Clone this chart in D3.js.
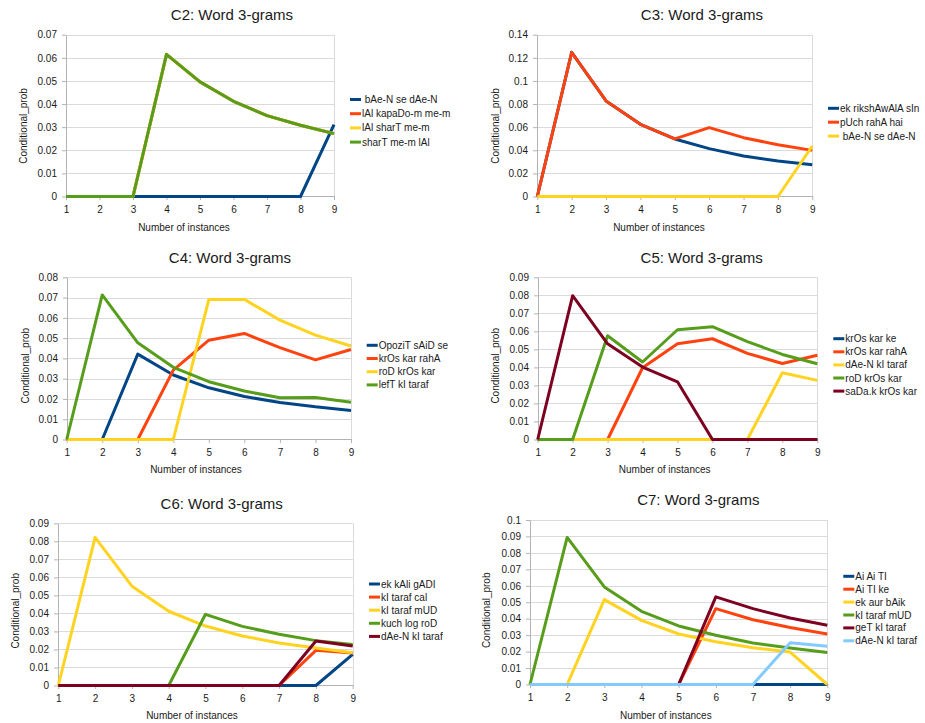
<!DOCTYPE html>
<html>
<head>
<meta charset="utf-8">
<script src="https://cdn.jsdelivr.net/npm/d3@7"></script>
<style>
  body { margin: 0; background: #fff; }
  text { font-family: "Liberation Sans", Arial, sans-serif; fill: #1a1a1a; }
  .grid line { stroke: #dadada; }
  .axis path, .axis line { stroke: #b3b3b3; }
  .axis text { font-size: 10px; fill: #1a1a1a; }
</style>
</head>
<body>
<script>
// x categories shared by every panel
const instances = [1, 2, 3, 4, 5, 6, 7, 8, 9];
const palette = ["#004586", "#ff420e", "#ffd320", "#579d1c", "#7e0021", "#83caff"];

// C2
const c2Names = [" bAe-N se dAe-N", "lAl kapaDo-m me-m", "lAl sharT me-m", "sharT me-m lAl"];
const c2Values = [
  [0, 0, 0, 0, 0, 0, 0, 0, 0.0311],
  [0, 0, 0, 0.0615, 0.0496, 0.0412, 0.035, 0.0308, 0.0272],
  [0, 0, 0, 0.0615, 0.0496, 0.0412, 0.035, 0.0308, 0.0272],
  [0, 0, 0, 0.0615, 0.0496, 0.0412, 0.035, 0.0308, 0.0272]
];

// C3
const c3Names = ["ek rikshAwAlA sIn", "pUch rahA hai", " bAe-N se dAe-N"];
const c3Values = [
  [0, 0.1247, 0.0827, 0.0625, 0.0498, 0.0414, 0.035, 0.0307, 0.0275],
  [0, 0.1247, 0.0827, 0.0625, 0.0498, 0.0596, 0.0509, 0.0448, 0.0399],
  [0, 0, 0, 0, 0, 0, 0, 0, 0.0437]
];

// C4
const c4Names = ["OpoziT sAiD se", "krOs kar rahA", "roD krOs kar", "lefT kI taraf"];
const c4Values = [
  [0, 0, 0.0421, 0.0318, 0.0255, 0.0212, 0.0183, 0.0161, 0.0143],
  [0, 0, 0, 0.0342, 0.049, 0.0523, 0.0453, 0.0393, 0.0444],
  [0, 0, 0, 0, 0.0691, 0.0691, 0.0589, 0.0515, 0.0461],
  [0, 0.0713, 0.0477, 0.0356, 0.0285, 0.0239, 0.0206, 0.0207, 0.0184]
];

// C5
const c5Names = ["krOs kar ke", "krOs kar rahA", "dAe-N kI taraf", "roD krOs kar", "saDa.k krOs kar"];
const c5Values = [
  [0, 0, 0, 0, 0, 0, 0, 0, 0],
  [0, 0, 0, 0.0398, 0.0531, 0.0559, 0.0478, 0.0422, 0.0467],
  [0, 0, 0, 0, 0, 0, 0, 0.037, 0.0328],
  [0, 0, 0.0576, 0.043, 0.0609, 0.0626, 0.0543, 0.0472, 0.042],
  [0, 0.0798, 0.0531, 0.0402, 0.032, 0, 0, 0, 0]
];

// C6
const c6Names = ["ek kAli gADI", "kI taraf cal", "kI taraf mUD", "kuch log roD", "dAe-N kI taraf"];
const c6Values = [
  [0, 0, 0, 0, 0, 0, 0, 0, 0.0173],
  [0, 0, 0, 0, 0, 0, 0, 0.0195, 0.018],
  [0, 0.0822, 0.0551, 0.0412, 0.033, 0.0275, 0.0236, 0.0208, 0.0182],
  [0, 0, 0, 0, 0.0395, 0.0328, 0.0284, 0.0249, 0.0228],
  [0, 0, 0, 0, 0, 0, 0, 0.0247, 0.0219]
];

// C7
const c7Names = ["Ai Ai TI", "Ai TI ke", "ek aur bAik", "kI taraf mUD", "geT kI taraf", "dAe-N kI taraf"];
const c7Values = [
  [0, 0, 0, 0, 0, 0, 0, 0, 0],
  [0, 0, 0, 0, 0, 0.0461, 0.0394, 0.0346, 0.0307],
  [0, 0, 0.0516, 0.039, 0.0307, 0.026, 0.0224, 0.0197, 0],
  [0, 0.0894, 0.0593, 0.0445, 0.0356, 0.0299, 0.0252, 0.0222, 0.0195],
  [0, 0, 0, 0, 0, 0.0533, 0.0461, 0.0404, 0.036],
  [0, 0, 0, 0, 0, 0, 0, 0.0254, 0.0232]
];

const yTicksC2 = [0, 0.01, 0.02, 0.03, 0.04, 0.05, 0.06, 0.07];
const yTicksC3 = [0, 0.02, 0.04, 0.06, 0.08, 0.1, 0.12, 0.14];
const yTicksC4 = [0, 0.01, 0.02, 0.03, 0.04, 0.05, 0.06, 0.07, 0.08];
const yTicks09 = [0, 0.01, 0.02, 0.03, 0.04, 0.05, 0.06, 0.07, 0.08, 0.09];
const yTicksC7 = [0, 0.01, 0.02, 0.03, 0.04, 0.05, 0.06, 0.07, 0.08, 0.09, 0.1];

// layout of the six panels (bottoms on half pixels so the zero lines sit crisp)
var panels = [
  { title: "C2: Word 3-grams", names: c2Names, values: c2Values, ticks: yTicksC2,
    box: [66, 34.7, 334, 196.5], titleAt: [232, 20], legendAt: [350, 99.5], legendGap: 14.2,
    yLabelAt: [23, 126], xLabelAt: [184, 231] },
  { title: "C3: Word 3-grams", names: c3Names, values: c3Values, ticks: yTicksC3,
    box: [537.3, 34.7, 812.3, 196.5], titleAt: [702, 20], legendAt: [828, 108.3], legendGap: 13.9,
    yLabelAt: [495, 126], xLabelAt: [659, 231] },
  { title: "C4: Word 3-grams", names: c4Names, values: c4Values, ticks: yTicksC4,
    box: [66.7, 277.3, 351, 439.5], titleAt: [230, 263], legendAt: [366.7, 345.3], legendGap: 13.2,
    yLabelAt: [25, 365.7], xLabelAt: [196, 473] },
  { title: "C5: Word 3-grams", names: c5Names, values: c5Values, ticks: yTicks09,
    box: [537.7, 277.3, 817.3, 439.5], titleAt: [701.7, 263], legendAt: [833.3, 338.7], legendGap: 13.1,
    yLabelAt: [495, 365.8], xLabelAt: [664.7, 473] },
  { title: "C6: Word 3-grams", names: c6Names, values: c6Values, ticks: yTicks09,
    box: [58.3, 523.3, 352.7, 685.5], titleAt: [221.7, 508.5], legendAt: [369, 584], legendGap: 13.1,
    yLabelAt: [15, 610.8], xLabelAt: [192, 719] },
  { title: "C7: Word 3-grams", names: c7Names, values: c7Values, ticks: yTicksC7,
    box: [530, 520, 827.3, 684.5], titleAt: [698.3, 505], legendAt: [843.3, 576.3], legendGap: 12.9,
    yLabelAt: [486.7, 610.3], xLabelAt: [665.8, 719] }
];

var svg = d3.select("body").append("svg").attr("width", 925).attr("height", 723);

panels.forEach(function (p) {
  var left = p.box[0], top = p.box[1], right = p.box[2], bottom = p.box[3];
  var x = d3.scaleLinear().domain([1, 9]).range([left, right]);
  var y = d3.scaleLinear().domain([0, d3.max(p.ticks)]).range([bottom, top]);

  var g = svg.append("g");

  g.append("g")
    .attr("class", "grid")
    .selectAll("line")
    .data(p.ticks.slice(1))
    .enter()
    .append("line")
    .attr("x1", left)
    .attr("x2", right)
    .attr("y1", function (d) { return Math.round(y(d)) + 0.5; })
    .attr("y2", function (d) { return Math.round(y(d)) + 0.5; });

  // right border of the plot area
  g.append("line")
    .attr("x1", Math.round(right) + 0.5).attr("x2", Math.round(right) + 0.5)
    .attr("y1", top).attr("y2", bottom)
    .attr("stroke", "#dadada");

  g.append("g")
    .attr("class", "axis")
    .attr("transform", "translate(" + Math.round(left) + ",0)")
    .call(d3.axisLeft(y).tickValues(p.ticks).tickSize(4).tickSizeOuter(0).tickPadding(5)
      .tickFormat(function (d) { return String(+d.toFixed(2)); }));

  g.append("g")
    .attr("class", "axis")
    .attr("transform", "translate(0," + Math.floor(bottom) + ")")
    .call(d3.axisBottom(x).tickValues(instances).tickSize(4).tickSizeOuter(0).tickPadding(6)
      .tickFormat(d3.format("d")));

  var line = d3.line()
    .x(function (d, i) { return x(instances[i]); })
    .y(function (d) { return y(d); });

  p.values.forEach(function (vals, i) {
    g.append("path")
      .datum(vals)
      .attr("fill", "none")
      .attr("stroke", palette[i])
      .attr("stroke-width", 3)
      .attr("stroke-linejoin", "round")
      .attr("d", line);
  });

  g.append("text")
    .attr("x", p.titleAt[0]).attr("y", p.titleAt[1])
    .attr("text-anchor", "middle")
    .style("font-size", "15px")
    .text(p.title);

  g.append("text")
    .attr("transform", "translate(" + p.yLabelAt[0] + "," + p.yLabelAt[1] + ") rotate(-90)")
    .attr("text-anchor", "middle")
    .attr("dy", "0.35em")
    .style("font-size", "10px")
    .text("Conditional_prob");

  g.append("text")
    .attr("x", p.xLabelAt[0]).attr("y", p.xLabelAt[1])
    .attr("text-anchor", "middle")
    .style("font-size", "10px")
    .text("Number of instances");

  var legend = g.selectAll(".legend")
    .data(p.names)
    .enter()
    .append("g")
    .attr("transform", function (d, i) {
      return "translate(" + p.legendAt[0] + "," + (p.legendAt[1] + i * p.legendGap) + ")";
    });

  legend.append("line")
    .attr("x1", 0).attr("x2", 11)
    .attr("stroke", function (d, i) { return palette[i]; })
    .attr("stroke-width", 3);

  legend.append("text")
    .attr("x", 12)
    .attr("dy", "0.35em")
    .style("font-size", "10px")
    .style("white-space", "pre")
    .text(function (d) { return d; });
});
</script>
</body>
</html>
